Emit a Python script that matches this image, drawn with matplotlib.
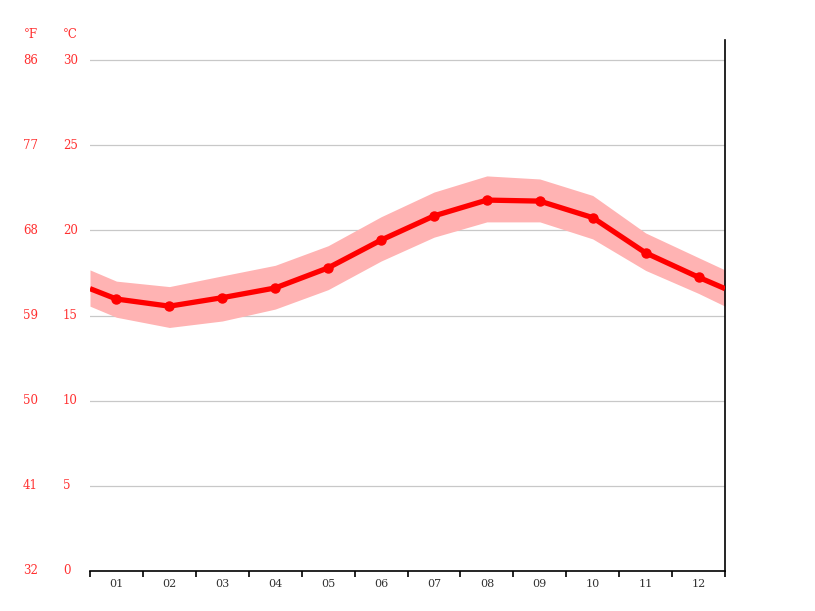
import numpy as np
import matplotlib
matplotlib.use("Agg")
import matplotlib.pyplot as plt
from matplotlib.transforms import blended_transform_factory

# Monthly mean temperature (deg C) with the min/max band
months = ["01", "02", "03", "04", "05", "06", "07", "08", "09", "10", "11", "12"]
temp = [15.97, 15.55, 16.05, 16.62, 17.8, 19.43, 20.85, 21.78, 21.72, 20.75, 18.68, 17.25]
temp_hi = [17.02, 16.7, 17.33, 17.95, 19.1, 20.8, 22.25, 23.2, 23.02, 22.05, 19.85, 18.4]
temp_lo = [14.9, 14.3, 14.68, 15.38, 16.52, 18.2, 19.6, 20.5, 20.5, 19.5, 17.65, 16.3]
# values where the curve meets the chart edges (Dec -> Jan)
edge_temp = 16.58
edge_hi = 17.68
edge_lo = 15.55

c_ticks = [0, 5, 10, 15, 20, 25, 30]
f_labels = ["32", "41", "50", "59", "68", "77", "86"]

red = "#ff0000"
label_red = "#ff3030"

x = np.concatenate([[0], np.arange(12) + 0.5, [12]])
y = np.concatenate([[edge_temp], temp, [edge_temp]])
y_hi = np.concatenate([[edge_hi], temp_hi, [edge_hi]])
y_lo = np.concatenate([[edge_lo], temp_lo, [edge_lo]])

fig = plt.figure(figsize=(8.15, 6.11), dpi=100)
ax = fig.add_axes([90 / 815, 40 / 611, 635 / 815, 531 / 611])

ax.fill_between(x, y_lo, y_hi, color="#ffb3b3", linewidth=0, zorder=2)
ax.plot(x, y, color=red, linewidth=3.8, zorder=3, solid_capstyle="butt")
ax.plot(x[1:-1], temp, "o", color=red, markersize=6.5, zorder=4)

ax.set_xlim(0, 12)
ax.set_ylim(0, 531 / 17.03)

# grid lines
for t in c_ticks[1:]:
    ax.axhline(t, color="#c8c8c8", linewidth=0.9, zorder=1)

for s in ["top", "left"]:
    ax.spines[s].set_visible(False)
ax.spines["bottom"].set_color("black")
ax.spines["bottom"].set_linewidth(1.2)
ax.spines["right"].set_color("black")
ax.spines["right"].set_linewidth(1.2)

# x axis: ticks on month boundaries, labels at centers
ax.set_xticks(np.arange(13))
ax.set_xticklabels([])
ax.set_xticks(np.arange(12) + 0.5, minor=True)
ax.set_xticklabels(months, minor=True, fontsize=8, color="#333333", family="DejaVu Serif")
ax.tick_params(axis="x", which="major", length=4, width=1.2, color="black", direction="out")
ax.tick_params(axis="x", which="minor", length=0, pad=6)

# y axis: labels drawn as text, Celsius and Fahrenheit columns
ax.set_yticks(c_ticks)
ax.set_yticklabels([])
ax.tick_params(axis="y", length=0)

trans = blended_transform_factory(fig.transFigure, ax.transData)
for t, f in zip(c_ticks, f_labels):
    ax.text(23 / 815, t, f, transform=trans, ha="left", va="center",
            fontsize=8.5, color=label_red, family="DejaVu Serif")
    ax.text(63 / 815, t, str(t), transform=trans, ha="left", va="center",
            fontsize=8.5, color=label_red, family="DejaVu Serif")

fig.text(24 / 815, 1 - 35 / 611, "°F", ha="left", va="center", fontsize=8.5,
         color=label_red, family="DejaVu Serif")
fig.text(63 / 815, 1 - 35 / 611, "°C", ha="left", va="center", fontsize=8.5,
         color=label_red, family="DejaVu Serif")

fig.savefig("out.png", dpi=100)
